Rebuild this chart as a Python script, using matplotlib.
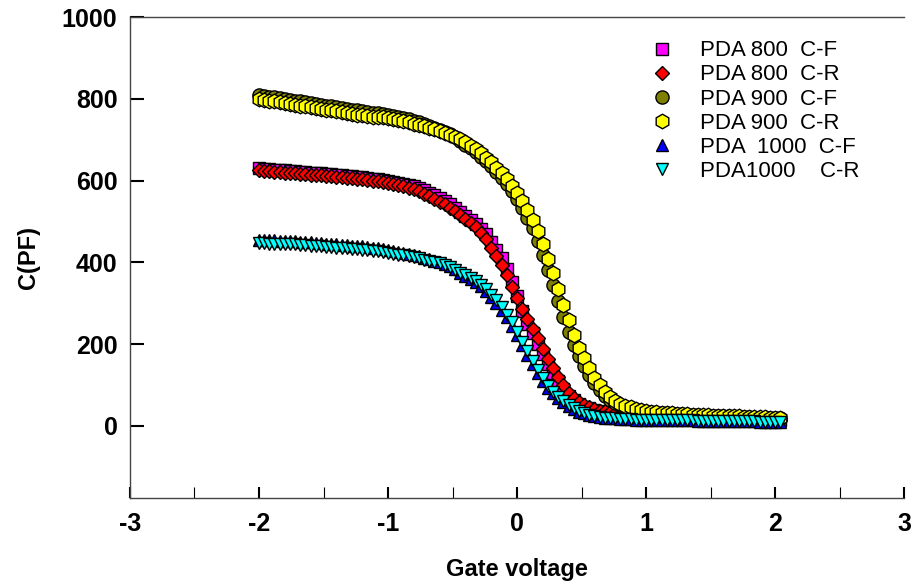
import matplotlib
matplotlib.use("Agg")
import matplotlib.pyplot as plt
from matplotlib.ticker import MultipleLocator

plt.rcParams["font.family"] = ["Liberation Sans", "DejaVu Sans"]
plt.rcParams["axes.unicode_minus"] = False

# gate voltage sweep (V)
voltage = [
    -2.00, -1.96, -1.92, -1.88, -1.84, -1.80, -1.76, -1.72, -1.68, -1.64,
    -1.60, -1.56, -1.52, -1.48, -1.44, -1.40, -1.36, -1.32, -1.28, -1.24,
    -1.20, -1.16, -1.12, -1.08, -1.04, -1.00, -0.96, -0.92, -0.88, -0.84,
    -0.80, -0.76, -0.72, -0.68, -0.64, -0.60, -0.56, -0.52, -0.48, -0.44,
    -0.40, -0.36, -0.32, -0.28, -0.24, -0.20, -0.16, -0.12, -0.08, -0.04,
    0.00, 0.04, 0.08, 0.12, 0.16, 0.20, 0.24, 0.28, 0.32, 0.36,
    0.40, 0.44, 0.48, 0.52, 0.56, 0.60, 0.64, 0.68, 0.72, 0.76,
    0.80, 0.84, 0.88, 0.92, 0.96, 1.00, 1.04, 1.08, 1.12, 1.16,
    1.20, 1.24, 1.28, 1.32, 1.36, 1.40, 1.44, 1.48, 1.52, 1.56,
    1.60, 1.64, 1.68, 1.72, 1.76, 1.80, 1.84, 1.88, 1.92, 1.96,
    2.00, 2.04,
]

# capacitance (pF)
pda800_cf = [
    630, 629, 628, 627, 626, 625, 624, 623, 622, 621,
    620, 619, 618, 617, 616, 615, 614, 612, 611, 610,
    608, 607, 605, 603, 601, 599, 597, 595, 592, 589,
    586, 581, 576, 570, 564, 557, 550, 543, 532, 523,
    513, 503, 493, 482, 469, 450, 431, 410, 383, 352,
    318, 280, 250, 226, 201, 176, 152, 130, 109, 90,
    74, 62, 53, 47, 43, 39, 36, 34, 32, 30,
    28, 27, 26, 25, 25, 24, 24, 24, 23, 23,
    22, 22, 22, 21, 21, 21, 20, 20, 20, 19,
    19, 19, 18, 18, 18, 17, 17, 17, 16, 16,
    16, 15,
]
pda800_cr = [
    625, 624, 623, 622, 621, 620, 619, 618, 617, 616,
    615, 614, 613, 612, 611, 610, 609, 607, 606, 605,
    603, 602, 600, 598, 596, 594, 592, 589, 586, 583,
    579, 574, 568, 562, 556, 549, 542, 534, 525, 516,
    506, 496, 486, 473, 456, 436, 416, 394, 368, 340,
    313, 287, 262, 238, 214, 189, 164, 141, 119, 99,
    81, 67, 57, 50, 45, 41, 37, 35, 33, 31,
    29, 28, 27, 26, 25, 25, 24, 24, 23, 23,
    22, 22, 22, 21, 21, 21, 20, 20, 20, 19,
    19, 19, 18, 18, 18, 17, 17, 17, 16, 16,
    16, 15,
]
pda900_cf = [
    810, 808, 806, 804, 802, 800, 798, 796, 794, 792,
    790, 788, 786, 784, 782, 780, 778, 776, 774, 772,
    770, 768, 766, 765, 764, 762, 759, 756, 753, 750,
    746, 743, 738, 734, 730, 725, 719, 714, 707, 697,
    688, 679, 670, 659, 648, 635, 622, 607, 591, 574,
    555, 534, 509, 484, 453, 418, 382, 345, 305, 267,
    230, 198, 171, 147, 124, 104, 87, 74, 64, 56,
    50, 46, 42, 39, 36, 34, 33, 32, 31, 30,
    29, 28, 28, 27, 26, 26, 25, 25, 24, 24,
    23, 23, 22, 22, 21, 21, 20, 20, 20, 19,
    19, 19,
]
pda900_cr = [
    800, 798, 796, 794, 792, 790, 788, 786, 784, 782,
    780, 778, 776, 774, 772, 770, 768, 766, 764, 762,
    760, 758, 757, 756, 755, 753, 751, 748, 746, 743,
    740, 737, 733, 729, 726, 722, 717, 713, 707, 701,
    694, 686, 677, 667, 656, 645, 632, 619, 603, 587,
    569, 550, 528, 503, 477, 445, 409, 373, 335, 295,
    258, 221, 190, 165, 141, 118, 99, 83, 71, 61,
    54, 49, 45, 41, 38, 35, 34, 33, 32, 31,
    30, 29, 29, 28, 27, 27, 26, 26, 25, 25,
    24, 24, 23, 23, 22, 22, 21, 21, 21, 20,
    20, 20,
]
pda1000_cf = [
    455, 455, 454, 454, 453, 453, 452, 452, 451, 450,
    449, 448, 447, 446, 445, 444, 443, 442, 441, 440,
    439, 438, 436, 435, 433, 431, 428, 426, 423, 421,
    418, 415, 411, 408, 404, 401, 396, 391, 383, 375,
    367, 359, 351, 341, 329, 316, 301, 283, 265, 244,
    221, 197, 173, 150, 129, 109, 92, 79, 67, 57,
    48, 40, 34, 30, 26, 23, 21, 20, 19, 18,
    17, 16, 16, 15, 15, 15, 14, 14, 14, 14,
    13, 13, 13, 13, 13, 12, 12, 12, 12, 12,
    12, 11, 11, 11, 11, 11, 11, 10, 10, 10,
    10, 10,
]
pda1000_cr = [
    447, 447, 446, 446, 445, 445, 444, 444, 443, 442,
    441, 440, 439, 438, 437, 436, 435, 434, 433, 432,
    431, 430, 428, 427, 425, 423, 421, 419, 417, 415,
    413, 410, 407, 404, 401, 398, 394, 389, 382, 375,
    368, 361, 354, 345, 334, 321, 307, 290, 272, 253,
    230, 206, 182, 158, 136, 116, 98, 83, 71, 60,
    51, 43, 36, 31, 27, 24, 22, 20, 19, 18,
    17, 16, 16, 15, 15, 15, 14, 14, 14, 14,
    13, 13, 13, 13, 13, 12, 12, 12, 12, 12,
    12, 11, 11, 11, 11, 11, 11, 10, 10, 10,
    10, 10,
]

series = [
    (pda800_cf, "PDA 800  C-F", "s", "#ff00ff", 8.5),
    (pda800_cr, "PDA 800  C-R", "D", "#ff0000", 7.3),
    (pda900_cf, "PDA 900  C-F", "o", "#808000", 9.5),
    (pda900_cr, "PDA 900  C-R", "h", "#ffff00", 10.5),
    (pda1000_cf, "PDA  1000  C-F", "^", "#0000ff", 8.5),
    (pda1000_cr, "PDA1000    C-R", "v", "#00ffff", 8.5),
]

fig = plt.figure(figsize=(9.16, 5.85), dpi=100)
ax = fig.add_axes([0.1419, 0.1487, 0.8451, 0.8217])

for values, label, marker, color, size in series:
    ax.plot(voltage, values, linestyle="none", marker=marker, markersize=size,
            markerfacecolor=color, markeredgecolor="black", markeredgewidth=1.0,
            label=label)

ax.set_xlim(-3, 3)
ax.set_ylim(-177, 1000)
ax.xaxis.set_major_locator(MultipleLocator(1))
ax.xaxis.set_minor_locator(MultipleLocator(0.5))
ax.set_yticks([0, 200, 400, 600, 800, 1000])

ax.spines["right"].set_visible(False)
for side in ("left", "bottom", "top"):
    ax.spines[side].set_color("#444444")
    ax.spines[side].set_linewidth(1.0)

ax.tick_params(axis="x", which="major", direction="in", length=8, width=1.5,
               pad=10, labelsize=18)
ax.tick_params(axis="x", which="minor", direction="in", length=8, width=0.8)
ax.tick_params(axis="y", which="major", direction="in", length=10, width=1.5,
               pad=9, labelsize=18)
for lab in ax.get_xticklabels() + ax.get_yticklabels():
    lab.set_fontweight("bold")

ax.set_xlabel("Gate voltage", fontsize=17, fontweight="bold", labelpad=16)
ax.set_ylabel("C(PF)", fontsize=17, fontweight="bold", labelpad=16)

fig.legend(loc="upper left", bbox_to_anchor=(0.711, 0.931), frameon=False,
           fontsize=16, handlelength=1.0, handletextpad=1.2, labelspacing=0.14,
           borderpad=0, borderaxespad=0)

fig.savefig("out.png", dpi=100)
